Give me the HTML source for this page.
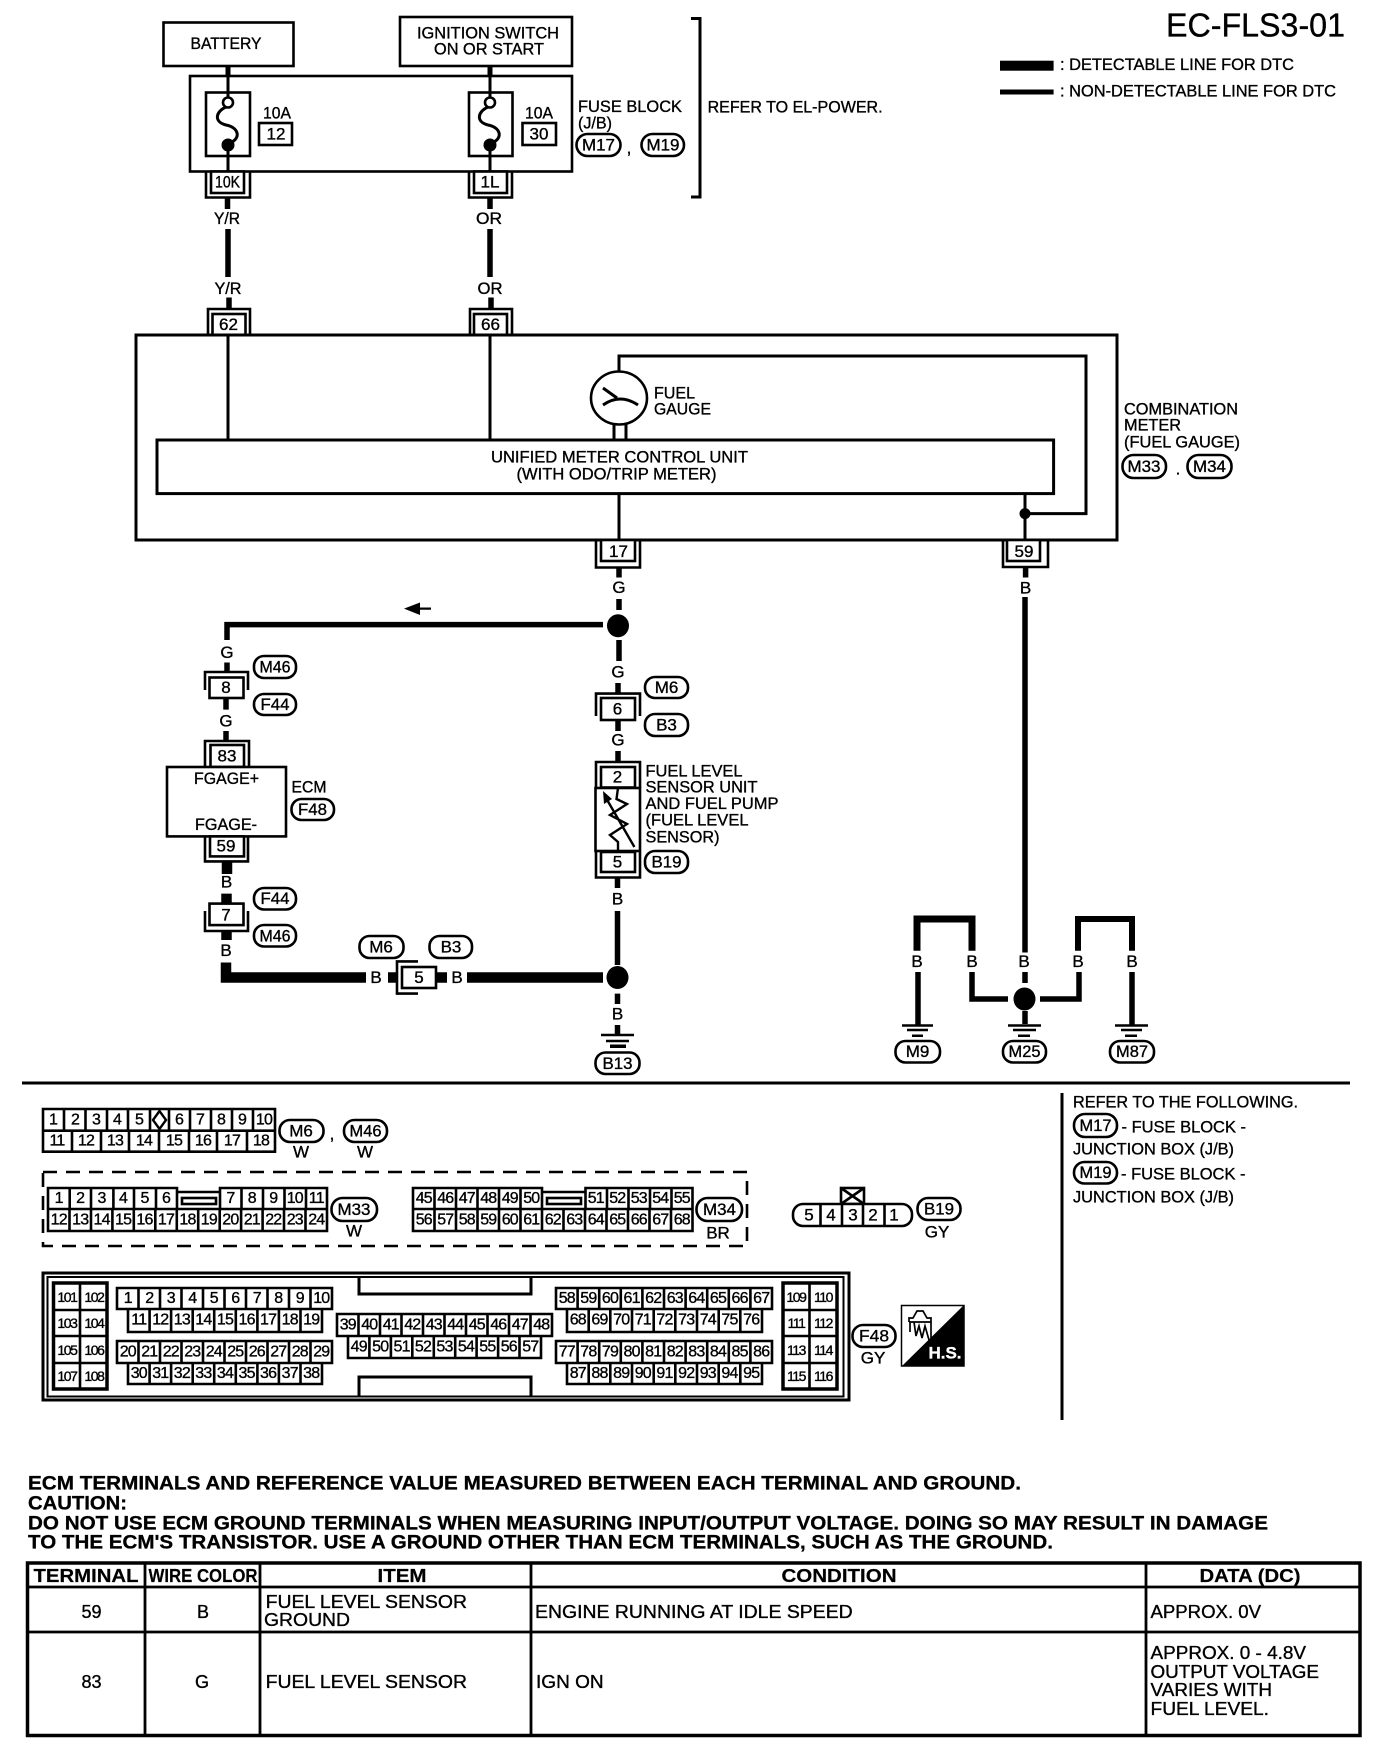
<!DOCTYPE html>
<html><head><meta charset="utf-8"><title>EC-FLS3-01</title>
<style>
html,body{margin:0;padding:0;background:#fff}
svg{display:block}
text{font-family:"Liberation Sans",sans-serif;font-size:17px;dominant-baseline:central;fill:#000;stroke:#000;stroke-width:.35px}
.m{text-anchor:middle}
.b{font-weight:bold;font-size:19px;stroke-width:.3px}
.h{font-weight:bold;font-size:18px;text-anchor:middle;stroke-width:.2px}
.n text{font-size:16px;letter-spacing:-.8px;text-anchor:middle}
.s text{font-size:14px;letter-spacing:-1.4px;text-anchor:middle}
.o rect,.f{fill:#fff;stroke:#000;stroke-width:2.6}
.l{fill:none;stroke:#000;stroke-width:2.6}
.w{fill:none;stroke:#000;stroke-width:3}
.t{fill:none;stroke:#000;stroke-width:5.5}
.x{fill:none;stroke:#000;stroke-width:10.5}
.g{fill:none;stroke:#000;stroke-width:2.4}
</style></head><body>
<svg width="1392" height="1752" viewBox="0 0 1392 1752" xmlns="http://www.w3.org/2000/svg">
<rect width="1392" height="1752" fill="#fff"/>

<!-- Title / legend -->
<text x="1166" y="25" style="font-size:33px" textLength="179" lengthAdjust="spacingAndGlyphs">EC-FLS3-01</text>
<rect x="1000" y="60.700" width="53.600" height="10" fill="#000"/>
<rect x="1000" y="89.500" width="53.600" height="5" fill="#000"/>
<text x="1060" y="64.600" textLength="234" lengthAdjust="spacingAndGlyphs">: DETECTABLE LINE FOR DTC</text>
<text x="1060" y="91" textLength="276" lengthAdjust="spacingAndGlyphs">: NON-DETECTABLE LINE FOR DTC</text>

<!-- Top boxes -->
<rect class="f" x="163.500" y="22.500" width="130" height="43.500"/>
<text class="m" x="226" y="43.600" textLength="71" lengthAdjust="spacingAndGlyphs">BATTERY</text>
<rect class="f" x="400" y="17" width="172" height="49"/>
<text class="m" x="488" y="33" textLength="142" lengthAdjust="spacingAndGlyphs">IGNITION SWITCH</text>
<text class="m" x="489" y="49" textLength="110" lengthAdjust="spacingAndGlyphs">ON OR START</text>
<path class="t" d="M228 66V76M490 66V76" style="stroke-width:5"/>
<rect class="f" x="190" y="76" width="382" height="95.500"/>
<path class="w" d="M228 76V97M228 145V171.500M490 76V97M490 145V171.500"/>
<rect class="f" x="206" y="92.500" width="44" height="63.500" style="fill:none"/>
<rect class="f" x="469" y="92.500" width="43.500" height="63.500" style="fill:none"/>
<path class="w" d="M226 107C215 112 214 122 226 125C238 127 242 138 230 143"/>
<path class="w" d="M488 107C477 112 476 122 488 125C500 127 504 138 492 143"/>
<circle class="f" cx="228" cy="102.500" r="5"/><circle class="f" cx="490" cy="102.500" r="5"/>
<circle cx="228" cy="145" r="6.500"/><circle cx="490" cy="145" r="6.500"/>
<text class="m" x="277" y="113" textLength="28" lengthAdjust="spacingAndGlyphs">10A</text>
<rect class="f" x="259" y="123" width="33" height="22"/><text class="m" x="276" y="134">12</text>
<text class="m" x="539" y="113" textLength="28" lengthAdjust="spacingAndGlyphs">10A</text>
<rect class="f" x="522.500" y="123" width="33.500" height="22"/><text class="m" x="539" y="134">30</text>
<text x="578" y="106.400" textLength="104" lengthAdjust="spacingAndGlyphs">FUSE BLOCK</text>
<text x="578" y="123" textLength="34" lengthAdjust="spacingAndGlyphs">(J/B)</text>
<g class="o">
<rect x="576.500" y="134" width="44" height="22" rx="11"/><rect x="641.500" y="134" width="42.500" height="22" rx="11"/>
</g>
<text class="m" x="598.500" y="145" textLength="33" lengthAdjust="spacingAndGlyphs">M17</text>
<text class="m" x="663" y="145" textLength="33" lengthAdjust="spacingAndGlyphs">M19</text>
<text class="m" x="629" y="148">,</text>
<path d="M691 18.500H700V197H691" class="l" style="stroke-width:3"/>
<text x="707.600" y="107" textLength="175" lengthAdjust="spacingAndGlyphs">REFER TO EL-POWER.</text>

<!-- upper connectors -->
<path class="l" d="M206 172V197.500H250V172M469 172V197.500H512V172"/>
<rect class="f" x="211" y="171.500" width="33" height="21.500"/><rect class="f" x="474" y="171.500" width="33" height="21.500"/>
<text class="m" x="227.500" y="182" textLength="25" lengthAdjust="spacingAndGlyphs">10K</text>
<text class="m" x="490" y="182">1L</text>
<path class="t" d="M227.500 197.500V209M228 229V277M229 297.500V309M490 197.500V209M490 229V277M491 297.500V309"/>
<text class="m" x="227" y="218.500" textLength="26" lengthAdjust="spacingAndGlyphs">Y/R</text>
<text class="m" x="489" y="218.500" textLength="26" lengthAdjust="spacingAndGlyphs">OR</text>
<text class="m" x="228" y="288.600" textLength="27" lengthAdjust="spacingAndGlyphs">Y/R</text>
<text class="m" x="490" y="288.600" textLength="25" lengthAdjust="spacingAndGlyphs">OR</text>
<path class="l" d="M208 334V309H250V334M470 334V309H512V334"/>
<rect class="f" x="212.500" y="314" width="33" height="21"/><rect class="f" x="474" y="314" width="33" height="21"/>
<text class="m" x="228.500" y="324.500">62</text><text class="m" x="490.500" y="324.500">66</text>

<!-- combination meter -->
<rect class="l" x="136" y="335" width="981" height="205" style="stroke-width:3"/>
<path class="w" d="M228 335V440M490 335V440M619 371V356H1086V513.600H1025M1025 493.600V540M619 493.600V540M614 424V440M626 424V440"/>
<circle cx="1025" cy="513.600" r="5.500"/>
<ellipse class="f" cx="619" cy="398" rx="28" ry="26.500"/>
<path class="w" d="M603 388L617 398M603 405Q620 393 638 405"/>
<text x="654" y="393" textLength="41" lengthAdjust="spacingAndGlyphs">FUEL</text>
<text x="654" y="409" textLength="57" lengthAdjust="spacingAndGlyphs">GAUGE</text>
<rect class="l" x="157" y="440" width="896.600" height="53.600" style="stroke-width:3"/>
<text x="491" y="457" textLength="257" lengthAdjust="spacingAndGlyphs">UNIFIED METER CONTROL UNIT</text>
<text x="516.500" y="474" textLength="200" lengthAdjust="spacingAndGlyphs">(WITH ODO/TRIP METER)</text>
<text x="1124" y="409" textLength="114" lengthAdjust="spacingAndGlyphs">COMBINATION</text>
<text x="1124" y="425" textLength="57" lengthAdjust="spacingAndGlyphs">METER</text>
<text x="1124" y="442" textLength="116" lengthAdjust="spacingAndGlyphs">(FUEL GAUGE)</text>
<g class="o"><rect x="1122.500" y="455" width="43.500" height="23" rx="11"/><rect x="1187.500" y="455" width="44" height="23" rx="11"/></g>
<text class="m" x="1144" y="466.500" textLength="33" lengthAdjust="spacingAndGlyphs">M33</text>
<text class="m" x="1209.500" y="466.500" textLength="33" lengthAdjust="spacingAndGlyphs">M34</text>
<text class="m" x="1178" y="469">.</text>

<!-- connector 17 and branch -->
<path class="l" d="M596 541V567.500H640V541M1003 541V567H1048V541"/>
<rect class="f" x="601" y="540" width="34" height="21"/><rect class="f" x="1007" y="540" width="33" height="21"/>
<text class="m" x="618.500" y="551.500">17</text><text class="m" x="1024" y="551.500">59</text>
<path class="t" d="M619 567.500V577.500M619 599V610M619 640V661M618 683V693.600M618 720V731M618 751V761.500"/>
<text class="m" x="619" y="587.500">G</text>
<ellipse cx="618" cy="625.700" rx="11" ry="11.500"/>
<path class="t" d="M603 624.600H227V640M227 662.500V672M226 698V709.600M226 731V741"/>
<path d="M404 608.600L420 602.500V607.500H431V609.700H420V615Z"/>
<text class="m" x="227" y="652.500">G</text>
<text class="m" x="226" y="721">G</text>
<text class="m" x="618" y="672">G</text>
<text class="m" x="618" y="740">G</text>
<path class="l" d="M205 690V672H248V690M205 767V741H249V767"/>
<rect class="f" x="209.500" y="677.500" width="34" height="20.500"/><text class="m" x="226" y="687.500">8</text>
<rect class="f" x="210.500" y="745" width="33.500" height="22"/><text class="m" x="227" y="756">83</text>
<rect class="f" x="167" y="767" width="119" height="69.400"/>
<text class="m" x="226.500" y="778.600" textLength="65" lengthAdjust="spacingAndGlyphs">FGAGE+</text>
<text class="m" x="226" y="824.600" textLength="62" lengthAdjust="spacingAndGlyphs">FGAGE-</text>
<text x="291.500" y="787" textLength="35" lengthAdjust="spacingAndGlyphs">ECM</text>
<path class="l" d="M205 837V861.400H248V837M205 911V931H248V911"/>
<rect class="f" x="210" y="836.400" width="34" height="20"/><text class="m" x="226" y="846">59</text>
<rect class="f" x="209.500" y="903.600" width="34" height="21.500"/><text class="m" x="226" y="915">7</text>
<path class="x" d="M227 861.400V874M226.500 893.600V903.600M226.500 931V940M226 962.500V977.500H366"/>
<text class="m" x="226.500" y="882">B</text><text class="m" x="226" y="950.700">B</text>
<text class="m" x="376" y="977.500">B</text>
<path class="x" d="M388 977.500H398M436 977.500H447M467 977.500H603"/>
<text class="m" x="457" y="977.500">B</text>
<path class="l" d="M418 961.400H397V993.600H418"/>
<rect class="f" x="402" y="967" width="34" height="21"/><text class="m" x="419" y="977.500">5</text>
<ellipse cx="617.500" cy="977.500" rx="11" ry="11.500"/>
<path class="t" d="M617.500 911V965M617.500 877.500V888M617.500 993.600V1004M617.500 1025V1035"/>
<text class="m" x="617.500" y="899">B</text><text class="m" x="617.500" y="1014">B</text>
<path class="g" d="M601 1035H634M606 1041H629"/><path d="M610 1044.500H626V1048H610Z"/>
<path class="l" d="M596 716V693.600H640V716M596 788V762H640V788"/>
<rect class="f" x="601" y="698" width="34" height="22"/><text class="m" x="617.500" y="709">6</text>
<rect class="f" x="601" y="767" width="34" height="20.500"/><text class="m" x="617.500" y="777">2</text>
<rect class="f" x="595.500" y="788" width="44.500" height="63"/>
<path class="g" d="M618 788L616.500 799L627 804L610 815L627 824L610 835L618 842V851M606 798L634.400 847"/>
<path d="M603 791L612 799L604 804Z"/>
<path class="l" d="M596 852V877.500H640V852"/>
<rect class="f" x="601" y="852" width="34" height="20"/><text class="m" x="617.500" y="862">5</text>
<text x="645.500" y="771" textLength="97" lengthAdjust="spacingAndGlyphs">FUEL LEVEL</text>
<text x="645.500" y="787" textLength="112" lengthAdjust="spacingAndGlyphs">SENSOR UNIT</text>
<text x="645.500" y="803.600" textLength="133" lengthAdjust="spacingAndGlyphs">AND FUEL PUMP</text>
<text x="645.500" y="820" textLength="103" lengthAdjust="spacingAndGlyphs">(FUEL LEVEL</text>
<text x="645.500" y="837" textLength="74" lengthAdjust="spacingAndGlyphs">SENSOR)</text>

<!-- ovals middle -->
<g class="o">
<rect x="254" y="656" width="42" height="22" rx="10"/><rect x="254" y="694" width="42" height="21" rx="10"/>
<rect x="254" y="888" width="42" height="21.500" rx="10"/><rect x="254" y="925" width="42" height="21.500" rx="10"/>
<rect x="291.500" y="799" width="42.500" height="21" rx="10"/>
<rect x="359.500" y="936" width="44" height="22" rx="10"/><rect x="429.500" y="936" width="42.500" height="22" rx="10"/>
<rect x="645" y="677" width="43" height="21" rx="10"/><rect x="645" y="714" width="43" height="22" rx="10"/>
<rect x="645" y="851" width="43" height="22" rx="10"/><rect x="595.500" y="1052.500" width="44" height="21.500" rx="10"/>
</g>
<text class="m" x="275" y="667" textLength="31" lengthAdjust="spacingAndGlyphs">M46</text>
<text class="m" x="275" y="704.500" textLength="29" lengthAdjust="spacingAndGlyphs">F44</text>
<text class="m" x="275" y="898.500" textLength="29" lengthAdjust="spacingAndGlyphs">F44</text>
<text class="m" x="275" y="936" textLength="31" lengthAdjust="spacingAndGlyphs">M46</text>
<text class="m" x="312.500" y="809.500" textLength="29" lengthAdjust="spacingAndGlyphs">F48</text>
<text class="m" x="381" y="947">M6</text><text class="m" x="451" y="947">B3</text>
<text class="m" x="666.500" y="687.500">M6</text><text class="m" x="666.500" y="725">B3</text>
<text class="m" x="666.500" y="862" textLength="30" lengthAdjust="spacingAndGlyphs">B19</text>
<text class="m" x="617.500" y="1063.500" textLength="30" lengthAdjust="spacingAndGlyphs">B13</text>

<!-- right ground tree -->
<path class="t" d="M1025.600 567V577.500M1025 597V952.500M1025 972V983M1025 1011V1024"/>
<text class="m" x="1025.500" y="588">B</text>
<path d="M917 950.700V919H972V950.700" fill="none" stroke="#000" stroke-width="7"/>
<path d="M1078 950.700V919H1132V950.700" fill="none" stroke="#000" stroke-width="6"/>
<text class="m" x="917" y="961.400">B</text><text class="m" x="972" y="961.400">B</text><text class="m" x="1024" y="961.400">B</text><text class="m" x="1078" y="961.400">B</text><text class="m" x="1132" y="961.400">B</text>
<path class="t" d="M918 972V1025.700M972 972V999H1008M1040 999H1079V972M1132 972V1025.700"/>
<ellipse cx="1024.500" cy="999" rx="11" ry="11.500"/>
<path class="g" d="M902 1025.500H933M907 1030H928M1008 1025.500H1041M1013 1030H1036M1115 1025.500H1148M1121 1030H1142"/>
<path d="M912 1034.500H923V1037H912ZM1018 1034.500H1030V1037H1018ZM1125 1034.500H1137V1037H1125Z"/>
<g class="o"><rect x="895.500" y="1041" width="44.500" height="21.500" rx="10"/><rect x="1003" y="1041" width="43" height="21.500" rx="10"/><rect x="1110" y="1041" width="44" height="21.500" rx="10"/></g>
<text class="m" x="917.500" y="1051.500">M9</text>
<text class="m" x="1024.500" y="1051.500" textLength="32" lengthAdjust="spacingAndGlyphs">M25</text>
<text class="m" x="1132" y="1051.500" textLength="32" lengthAdjust="spacingAndGlyphs">M87</text>

<!-- divider -->
<rect x="22" y="1081.500" width="1328" height="3" fill="#000"/>
<rect x="1060.500" y="1093" width="3" height="327" fill="#000"/>

<!-- M6/M46 connector -->
<path class="l" d="M43 1109H275V1151.700H43ZM43 1130.700H275M64 1109V1130.700M85.500 1109V1130.700M107 1109V1130.700M128 1109V1130.700M150 1109V1130.700M169 1109V1130.700M190 1109V1130.700M211 1109V1130.700M232 1109V1130.700M253 1109V1130.700M72 1130.700V1151.700M101 1130.700V1151.700M129 1130.700V1151.700M159 1130.700V1151.700M189 1130.700V1151.700M217 1130.700V1151.700M247 1130.700V1151.700"/>
<path class="g" d="M159.500 1111L153 1120L159.500 1129L166 1120Z"/>
<g class="n">
<text x="53" y="1120">1</text><text x="75" y="1120">2</text><text x="96" y="1120">3</text><text x="117" y="1120">4</text><text x="139" y="1120">5</text><text x="179" y="1120">6</text><text x="200" y="1120">7</text><text x="221" y="1120">8</text><text x="242" y="1120">9</text><text x="264" y="1120">10</text>
<text x="57" y="1141">11</text><text x="86" y="1141">12</text><text x="115" y="1141">13</text><text x="144" y="1141">14</text><text x="174" y="1141">15</text><text x="203" y="1141">16</text><text x="232" y="1141">17</text><text x="261" y="1141">18</text>
</g>
<g class="o"><rect x="279.500" y="1120" width="44" height="22" rx="10.500"/><rect x="344" y="1120" width="43" height="22" rx="10.500"/></g>
<text class="m" x="301" y="1131">M6</text><text class="m" x="365.500" y="1131" textLength="32" lengthAdjust="spacingAndGlyphs">M46</text>
<text class="m" x="332" y="1134">,</text>
<text class="m" x="301" y="1152">W</text><text class="m" x="365" y="1152">W</text>

<!-- dashed -->
<path d="M43 1172H747V1246H43Z" fill="none" stroke="#000" stroke-width="2.6" stroke-dasharray="14 9"/>

<!-- M33 -->
<path class="l" d="M48 1188H177V1192H220V1188H327V1231H48ZM48 1209H327M69.700 1188V1209M91 1188V1209M113.400 1188V1209M134 1188V1209M156 1188V1209M177 1188V1209M220 1188V1209M241.500 1188V1209M263 1188V1209M284.500 1188V1209M306 1188V1209M69.500 1209V1231M91 1209V1231M112.400 1209V1231M133.800 1209V1231M155.300 1209V1231M176.800 1209V1231M198.200 1209V1231M219.700 1209V1231M241.100 1209V1231M262.600 1209V1231M284 1209V1231M305.500 1209V1231"/>
<rect class="l" x="182" y="1198" width="34" height="6"/>
<g class="n">
<text x="58.700" y="1198.500">1</text><text x="80.200" y="1198.500">2</text><text x="101.600" y="1198.500">3</text><text x="123.100" y="1198.500">4</text><text x="144.500" y="1198.500">5</text><text x="166" y="1198.500">6</text><text x="230.400" y="1198.500">7</text><text x="251.800" y="1198.500">8</text><text x="273.300" y="1198.500">9</text><text x="294.800" y="1198.500">10</text><text x="316.300" y="1198.500">11</text>
<text x="58.700" y="1220">12</text><text x="80.200" y="1220">13</text><text x="101.600" y="1220">14</text><text x="123.100" y="1220">15</text><text x="144.500" y="1220">16</text><text x="166" y="1220">17</text><text x="187.500" y="1220">18</text><text x="208.900" y="1220">19</text><text x="230.400" y="1220">20</text><text x="251.800" y="1220">21</text><text x="273.300" y="1220">22</text><text x="294.800" y="1220">23</text><text x="316.300" y="1220">24</text>
</g>
<rect class="f" x="331.500" y="1198" width="45.500" height="23" rx="11"/>
<text class="m" x="354" y="1209.500" textLength="33" lengthAdjust="spacingAndGlyphs">M33</text>
<text class="m" x="354" y="1231">W</text>

<!-- M34 -->
<path class="l" d="M413 1188H542V1192H585.500V1188H692.500V1231H413ZM413 1209H692.500M434.500 1188V1209M456 1188V1209M477.500 1188V1209M499 1188V1209M520.500 1188V1209M542 1188V1209M585.500 1188V1209M607 1188V1209M628.500 1188V1209M650 1188V1209M671.500 1188V1209M434.500 1209V1231M456 1209V1231M477.500 1209V1231M499 1209V1231M520.500 1209V1231M542 1209V1231M563.500 1209V1231M585 1209V1231M606.500 1209V1231M628 1209V1231M649.500 1209V1231M671 1209V1231"/>
<rect class="l" x="547" y="1198" width="34" height="6"/>
<g class="n">
<text x="423.800" y="1198.500">45</text><text x="445.300" y="1198.500">46</text><text x="466.800" y="1198.500">47</text><text x="488.300" y="1198.500">48</text><text x="509.800" y="1198.500">49</text><text x="531.300" y="1198.500">50</text><text x="595.800" y="1198.500">51</text><text x="617.300" y="1198.500">52</text><text x="638.800" y="1198.500">53</text><text x="660.300" y="1198.500">54</text><text x="681.800" y="1198.500">55</text>
<text x="423.800" y="1220">56</text><text x="445.300" y="1220">57</text><text x="466.800" y="1220">58</text><text x="488.300" y="1220">59</text><text x="509.800" y="1220">60</text><text x="531.300" y="1220">61</text><text x="552.800" y="1220">62</text><text x="574.300" y="1220">63</text><text x="595.800" y="1220">64</text><text x="617.300" y="1220">65</text><text x="638.800" y="1220">66</text><text x="660.300" y="1220">67</text><text x="681.800" y="1220">68</text>
</g>
<rect class="f" x="696.500" y="1198" width="45.500" height="23" rx="11"/>
<text class="m" x="719.500" y="1209.500" textLength="33" lengthAdjust="spacingAndGlyphs">M34</text>
<text class="m" x="718" y="1233">BR</text>

<!-- B19 -->
<rect class="l" x="841" y="1188" width="23" height="16"/><path class="l" d="M841 1188L864 1204M864 1188L841 1204"/>
<rect class="f" x="793" y="1204" width="119" height="22" rx="10"/>
<path class="l" d="M820.500 1204V1226M842 1204V1226M863 1204V1226M884.500 1204V1226"/>
<text class="m" x="809" y="1215">5</text><text class="m" x="831" y="1215">4</text><text class="m" x="853" y="1215">3</text><text class="m" x="873" y="1215">2</text><text class="m" x="894" y="1215">1</text>
<rect class="f" x="917.500" y="1198" width="43" height="22" rx="10.500"/>
<text class="m" x="939" y="1209" textLength="30" lengthAdjust="spacingAndGlyphs">B19</text>
<text class="m" x="937" y="1232">GY</text>

<!-- Refer -->
<text x="1073" y="1102" textLength="225" lengthAdjust="spacingAndGlyphs">REFER TO THE FOLLOWING.</text>
<rect class="f" x="1074" y="1114" width="43" height="23" rx="11"/>
<text class="m" x="1095.500" y="1125.500" textLength="32" lengthAdjust="spacingAndGlyphs">M17</text>
<text x="1121.500" y="1127" textLength="124.500" lengthAdjust="spacingAndGlyphs">- FUSE BLOCK -</text>
<text x="1073" y="1149" textLength="161" lengthAdjust="spacingAndGlyphs">JUNCTION BOX (J/B)</text>
<rect class="f" x="1074" y="1162" width="43" height="21.500" rx="10.500"/>
<text class="m" x="1095.500" y="1172.500" textLength="32" lengthAdjust="spacingAndGlyphs">M19</text>
<text x="1121" y="1174" textLength="124.500" lengthAdjust="spacingAndGlyphs">- FUSE BLOCK -</text>
<text x="1073" y="1197" textLength="161" lengthAdjust="spacingAndGlyphs">JUNCTION BOX (J/B)</text>

<!-- ECM connector -->
<rect class="l" x="43" y="1273" width="806" height="127" style="stroke-width:3"/>
<rect class="l" x="47.500" y="1277" width="796" height="119.500" style="stroke-width:2"/>
<path class="l" d="M359 1277V1294H531V1277M359 1396V1377H531V1396" style="stroke-width:3"/>
<rect class="l" x="53.500" y="1283" width="53.500" height="106" style="stroke-width:3.500"/>
<path class="l" d="M80 1283V1389M53.500 1310H107M53.500 1336H107M53.500 1363H107"/>
<rect class="l" x="783" y="1283" width="54" height="106" style="stroke-width:3.500"/>
<path class="l" d="M809.500 1283V1389M783 1310H837M783 1336H837M783 1363H837"/>
<g class="s">
<text x="67" y="1297">101</text><text x="94" y="1297">102</text><text x="67" y="1323">103</text><text x="94" y="1323">104</text><text x="67" y="1350">105</text><text x="94" y="1350">106</text><text x="67" y="1376">107</text><text x="94" y="1376">108</text>
<text x="796" y="1297">109</text><text x="823" y="1297">110</text><text x="796" y="1323">111</text><text x="823" y="1323">112</text><text x="796" y="1350">113</text><text x="823" y="1350">114</text><text x="796" y="1376">115</text><text x="823" y="1376">116</text>
</g>
<!-- grid A -->
<path class="l" d="M117 1288H332V1309H322V1332H128V1309H117ZM128 1309H322M138.500 1288V1309M160 1288V1309M181.500 1288V1309M203 1288V1309M224.500 1288V1309M246 1288V1309M267.500 1288V1309M289 1288V1309M310.500 1288V1309M149.600 1309V1332M171.100 1309V1332M192.700 1309V1332M214.200 1309V1332M235.800 1309V1332M257.400 1309V1332M278.900 1309V1332M300.500 1309V1332"/>
<path class="l" d="M117 1341H332V1363H322V1384H128V1363H117ZM128 1363H322M138.500 1341V1363M160 1341V1363M181.500 1341V1363M203 1341V1363M224.500 1341V1363M246 1341V1363M267.500 1341V1363M289 1341V1363M310.500 1341V1363M149.600 1363V1384M171.100 1363V1384M192.700 1363V1384M214.200 1363V1384M235.800 1363V1384M257.400 1363V1384M278.900 1363V1384M300.500 1363V1384"/>
<!-- grid center -->
<path class="l" d="M337 1314H552V1336H541V1358H348V1336H337ZM348 1336H541M358.500 1314V1336M380 1314V1336M401.500 1314V1336M423 1314V1336M444.500 1314V1336M466 1314V1336M487.500 1314V1336M509 1314V1336M530.500 1314V1336M369.400 1336V1358M390.900 1336V1358M412.300 1336V1358M433.800 1336V1358M455.200 1336V1358M476.600 1336V1358M498.100 1336V1358M519.500 1336V1358"/>
<!-- grid right -->
<path class="l" d="M556 1288H772V1309H762V1332H567V1309H556ZM567 1309H762M577.600 1288V1309M599.200 1288V1309M620.800 1288V1309M642.400 1288V1309M664 1288V1309M685.600 1288V1309M707.200 1288V1309M728.800 1288V1309M750.400 1288V1309M588.700 1309V1332M610.300 1309V1332M632 1309V1332M653.700 1309V1332M675.300 1309V1332M697 1309V1332M718.700 1309V1332M740.300 1309V1332"/>
<path class="l" d="M556 1341H772V1363H762V1384H567V1363H556ZM567 1363H762M577.600 1341V1363M599.200 1341V1363M620.800 1341V1363M642.400 1341V1363M664 1341V1363M685.600 1341V1363M707.200 1341V1363M728.800 1341V1363M750.400 1341V1363M588.700 1363V1384M610.300 1363V1384M632 1363V1384M653.700 1363V1384M675.300 1363V1384M697 1363V1384M718.700 1363V1384M740.300 1363V1384"/>
<g class="n">
<text x="127.800" y="1298.500">1</text><text x="149.300" y="1298.500">2</text><text x="170.800" y="1298.500">3</text><text x="192.300" y="1298.500">4</text><text x="213.800" y="1298.500">5</text><text x="235.300" y="1298.500">6</text><text x="256.800" y="1298.500">7</text><text x="278.300" y="1298.500">8</text><text x="299.800" y="1298.500">9</text><text x="321.300" y="1298.500">10</text>
<text x="138.800" y="1320">11</text><text x="160.300" y="1320">12</text><text x="181.900" y="1320">13</text><text x="203.400" y="1320">14</text><text x="225" y="1320">15</text><text x="246.600" y="1320">16</text><text x="268.100" y="1320">17</text><text x="289.700" y="1320">18</text><text x="311.200" y="1320">19</text>
<text x="127.800" y="1352">20</text><text x="149.300" y="1352">21</text><text x="170.800" y="1352">22</text><text x="192.300" y="1352">23</text><text x="213.800" y="1352">24</text><text x="235.300" y="1352">25</text><text x="256.800" y="1352">26</text><text x="278.300" y="1352">27</text><text x="299.800" y="1352">28</text><text x="321.300" y="1352">29</text>
<text x="138.800" y="1373.500">30</text><text x="160.300" y="1373.500">31</text><text x="181.900" y="1373.500">32</text><text x="203.400" y="1373.500">33</text><text x="225" y="1373.500">34</text><text x="246.600" y="1373.500">35</text><text x="268.100" y="1373.500">36</text><text x="289.700" y="1373.500">37</text><text x="311.200" y="1373.500">38</text>
<text x="347.800" y="1325">39</text><text x="369.300" y="1325">40</text><text x="390.800" y="1325">41</text><text x="412.300" y="1325">42</text><text x="433.800" y="1325">43</text><text x="455.300" y="1325">44</text><text x="476.800" y="1325">45</text><text x="498.300" y="1325">46</text><text x="519.800" y="1325">47</text><text x="541.300" y="1325">48</text>
<text x="358.700" y="1347">49</text><text x="380.200" y="1347">50</text><text x="401.600" y="1347">51</text><text x="423" y="1347">52</text><text x="444.500" y="1347">53</text><text x="466" y="1347">54</text><text x="487.400" y="1347">55</text><text x="508.800" y="1347">56</text><text x="530.300" y="1347">57</text>
<text x="566.800" y="1298.500">58</text><text x="588.400" y="1298.500">59</text><text x="610" y="1298.500">60</text><text x="631.600" y="1298.500">61</text><text x="653.200" y="1298.500">62</text><text x="674.800" y="1298.500">63</text><text x="696.400" y="1298.500">64</text><text x="718" y="1298.500">65</text><text x="739.600" y="1298.500">66</text><text x="761.200" y="1298.500">67</text>
<text x="577.800" y="1320">68</text><text x="599.500" y="1320">69</text><text x="621.200" y="1320">70</text><text x="642.800" y="1320">71</text><text x="664.500" y="1320">72</text><text x="686.200" y="1320">73</text><text x="707.800" y="1320">74</text><text x="729.500" y="1320">75</text><text x="751.200" y="1320">76</text>
<text x="566.800" y="1352">77</text><text x="588.400" y="1352">78</text><text x="610" y="1352">79</text><text x="631.600" y="1352">80</text><text x="653.200" y="1352">81</text><text x="674.800" y="1352">82</text><text x="696.400" y="1352">83</text><text x="718" y="1352">84</text><text x="739.600" y="1352">85</text><text x="761.200" y="1352">86</text>
<text x="577.800" y="1373.500">87</text><text x="599.500" y="1373.500">88</text><text x="621.200" y="1373.500">89</text><text x="642.800" y="1373.500">90</text><text x="664.500" y="1373.500">91</text><text x="686.200" y="1373.500">92</text><text x="707.800" y="1373.500">93</text><text x="729.500" y="1373.500">94</text><text x="751.200" y="1373.500">95</text>
</g>
<rect class="f" x="852.500" y="1325" width="43" height="22" rx="10.500"/>
<text class="m" x="874" y="1336" textLength="30" lengthAdjust="spacingAndGlyphs">F48</text>
<text class="m" x="873" y="1358">GY</text>

<!-- HS icon -->
<rect x="901.500" y="1305.500" width="62.500" height="60.500" fill="#fff" stroke="#000" stroke-width="1.500"/>
<path d="M964 1305V1366H902Z" fill="#000"/>
<path class="g" d="M909 1322V1318H913L917 1311H923L927 1318H931V1322H909M910 1322V1332M914 1322L916 1336L919 1326L922 1338L925 1326L929 1340M931 1322V1338" style="stroke-width:1.700"/>
<text class="m" x="945" y="1353" style="font-size:17px;font-weight:bold;fill:#fff;stroke:#fff" textLength="33" lengthAdjust="spacingAndGlyphs">H.S.</text>

<!-- Notes -->
<text class="b" x="28" y="1484" textLength="993" lengthAdjust="spacingAndGlyphs">ECM TERMINALS AND REFERENCE VALUE MEASURED BETWEEN EACH TERMINAL AND GROUND.</text>
<text class="b" x="28" y="1504" textLength="99" lengthAdjust="spacingAndGlyphs">CAUTION:</text>
<text class="b" x="28" y="1524" textLength="1240" lengthAdjust="spacingAndGlyphs">DO NOT USE ECM GROUND TERMINALS WHEN MEASURING INPUT/OUTPUT VOLTAGE. DOING SO MAY RESULT IN DAMAGE</text>
<text class="b" x="28" y="1543" textLength="1025" lengthAdjust="spacingAndGlyphs">TO THE ECM'S TRANSISTOR. USE A GROUND OTHER THAN ECM TERMINALS, SUCH AS THE GROUND.</text>

<!-- Table -->
<rect class="l" x="27.500" y="1563" width="1332.500" height="172.500" style="stroke-width:3.500"/>
<path class="l" d="M27.500 1587H1360M27.500 1632H1360M145 1563V1735.500M260 1563V1735.500M531 1563V1735.500M1146 1563V1735.500" style="stroke-width:2.800"/>
<text class="h" x="86" y="1576" textLength="105" lengthAdjust="spacingAndGlyphs">TERMINAL</text>
<text class="h" x="203" y="1576" textLength="109" lengthAdjust="spacingAndGlyphs">WIRE COLOR</text>
<text class="h" x="402" y="1576" textLength="49" lengthAdjust="spacingAndGlyphs">ITEM</text>
<text class="h" x="839" y="1576" textLength="115" lengthAdjust="spacingAndGlyphs">CONDITION</text>
<text class="h" x="1250" y="1576" textLength="101" lengthAdjust="spacingAndGlyphs">DATA (DC)</text>
<text class="m" x="91.500" y="1612" style="font-size:18px">59</text>
<text class="m" x="203" y="1612" style="font-size:18px">B</text>
<text x="265.600" y="1602" style="font-size:18px" textLength="201.400" lengthAdjust="spacingAndGlyphs">FUEL LEVEL SENSOR</text>
<text x="264" y="1620" style="font-size:18px" textLength="86" lengthAdjust="spacingAndGlyphs">GROUND</text>
<text x="535" y="1612" style="font-size:18px" textLength="317.700" lengthAdjust="spacingAndGlyphs">ENGINE RUNNING AT IDLE SPEED</text>
<text x="1150.500" y="1612" style="font-size:18px" textLength="110.500" lengthAdjust="spacingAndGlyphs">APPROX. 0V</text>
<text class="m" x="91.500" y="1682" style="font-size:18px">83</text>
<text class="m" x="202" y="1682" style="font-size:18px">G</text>
<text x="265.600" y="1682" style="font-size:18px" textLength="201.400" lengthAdjust="spacingAndGlyphs">FUEL LEVEL SENSOR</text>
<text x="536" y="1682" style="font-size:18px" textLength="67.600" lengthAdjust="spacingAndGlyphs">IGN ON</text>
<text x="1150.500" y="1653" style="font-size:18px" textLength="155.500" lengthAdjust="spacingAndGlyphs">APPROX. 0 - 4.8V</text>
<text x="1150.500" y="1672" style="font-size:18px" textLength="168.500" lengthAdjust="spacingAndGlyphs">OUTPUT VOLTAGE</text>
<text x="1150.500" y="1690" style="font-size:18px" textLength="121.500" lengthAdjust="spacingAndGlyphs">VARIES WITH</text>
<text x="1150.500" y="1709" style="font-size:18px" textLength="118.500" lengthAdjust="spacingAndGlyphs">FUEL LEVEL.</text>
</svg>
</body></html>
